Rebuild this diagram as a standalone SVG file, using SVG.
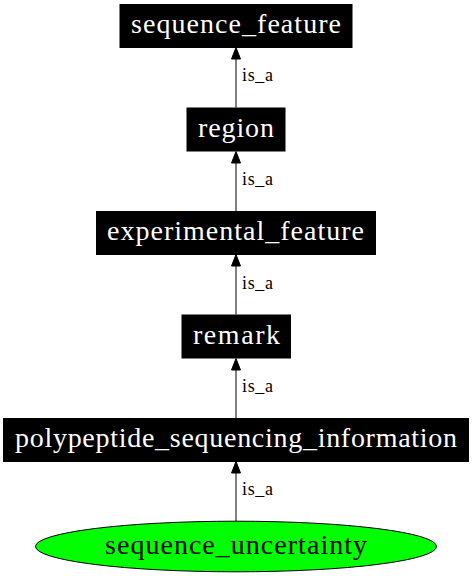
<svg xmlns="http://www.w3.org/2000/svg" width="473" height="576" viewBox="0 0 473 576">
<defs>
<style>
.box{fill:#000;stroke:#000;stroke-width:1}
.nt{font-family:"Liberation Serif","Times New Roman",serif;font-size:28px;fill:#fff;text-anchor:start}
.et{font-family:"Liberation Serif","Times New Roman",serif;font-size:18px;fill:#000}
.edge{stroke:#000;stroke-width:1;fill:none}
.ah{fill:#000;stroke:#000;stroke-width:1}
</style>
</defs>
<rect width="473" height="576" fill="#fff"/>
<g id="connectors">
<g id="e1"><line class="edge" x1="236" y1="107.5" x2="236" y2="59"/><polygon class="ah" points="236,47.5 240.5,59 231.5,59"/><text class="et" x="242" y="81" textLength="31" lengthAdjust="spacing">is_a</text></g>
<g id="e2"><line class="edge" x1="236" y1="211" x2="236" y2="163"/><polygon class="ah" points="236,151.5 240.5,163 231.5,163"/><text class="et" x="242" y="185" textLength="31" lengthAdjust="spacing">is_a</text></g>
<g id="e3"><line class="edge" x1="236" y1="314.5" x2="236" y2="266"/><polygon class="ah" points="236,254.5 240.5,266 231.5,266"/><text class="et" x="242" y="289" textLength="31" lengthAdjust="spacing">is_a</text></g>
<g id="e4"><line class="edge" x1="236" y1="418" x2="236" y2="370"/><polygon class="ah" points="236,358.5 240.5,370 231.5,370"/><text class="et" x="242" y="392" textLength="31" lengthAdjust="spacing">is_a</text></g>
<g id="e5"><line class="edge" x1="236" y1="521" x2="236" y2="473"/><polygon class="ah" points="236,461.5 240.5,473 231.5,473"/><text class="et" x="242" y="495" textLength="31" lengthAdjust="spacing">is_a</text></g>
</g>
<g id="sequence_feature"><rect class="box" x="120" y="4.5" width="232" height="43"/><text class="nt" x="131" y="33" textLength="210" lengthAdjust="spacing">sequence_feature</text></g>
<g id="region"><rect class="box" x="187" y="108" width="98" height="43"/><text class="nt" x="198" y="137" textLength="76" lengthAdjust="spacing">region</text></g>
<g id="experimental_feature"><rect class="box" x="96.5" y="211.5" width="279" height="43"/><text class="nt" x="107" y="240" textLength="257" lengthAdjust="spacing">experimental_feature</text></g>
<g id="remark"><rect class="box" x="182" y="315" width="108.5" height="43"/><text class="nt" x="193" y="344" textLength="87" lengthAdjust="spacing">remark</text></g>
<g id="polypeptide_sequencing_information"><rect class="box" x="3.5" y="418.5" width="465" height="43"/><text class="nt" x="15" y="447" textLength="442" lengthAdjust="spacing">polypeptide_sequencing_information</text></g>
<g id="sequence_uncertainty"><ellipse cx="236" cy="546.5" rx="200.5" ry="25.3" fill="#00ff00" stroke="#000" stroke-width="1"/><text class="nt" x="105" y="554" textLength="262" lengthAdjust="spacing" style="fill:#000">sequence_uncertainty</text></g>
</svg>
